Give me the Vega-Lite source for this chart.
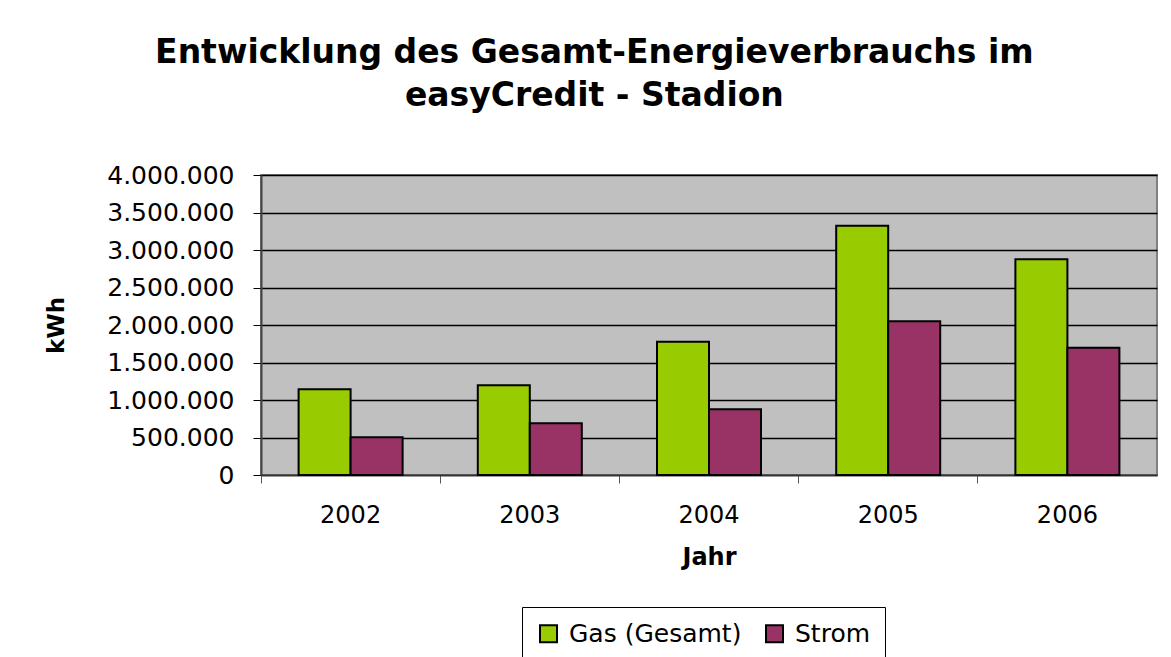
{
  "$schema": "https://vega.github.io/schema/vega-lite/v6.json",
  "autosize": "none",
  "width": 896,
  "height": 300,
  "padding": {"left": 261, "top": 175, "right": 14, "bottom": 182},
  "background": "white",
  "title": {
    "text": ["Entwicklung des Gesamt-Energieverbrauchs im", "easyCredit - Stadion"],
    "font": "DejaVu Sans",
    "fontSize": 33,
    "fontWeight": "bold",
    "color": "black",
    "anchor": "middle",
    "frame": "bounds",
    "lineHeight": 43,
    "offset": 50,
    "dx": -7
  },
  "data": {
    "values": [
      {"Jahr": "2002", "Serie": "Gas (Gesamt)", "kWh": 1143000},
      {"Jahr": "2002", "Serie": "Strom", "kWh": 502000},
      {"Jahr": "2003", "Serie": "Gas (Gesamt)", "kWh": 1196000},
      {"Jahr": "2003", "Serie": "Strom", "kWh": 689000},
      {"Jahr": "2004", "Serie": "Gas (Gesamt)", "kWh": 1778000},
      {"Jahr": "2004", "Serie": "Strom", "kWh": 876000},
      {"Jahr": "2005", "Serie": "Gas (Gesamt)", "kWh": 3324000},
      {"Jahr": "2005", "Serie": "Strom", "kWh": 2049000},
      {"Jahr": "2006", "Serie": "Gas (Gesamt)", "kWh": 2876000},
      {"Jahr": "2006", "Serie": "Strom", "kWh": 1698000}
    ]
  },
  "mark": {"type": "bar", "stroke": "black", "strokeWidth": 2},
  "encoding": {
    "x": {
      "field": "Jahr",
      "type": "nominal",
      "title": "Jahr",
      "scale": {"paddingInner": 0, "paddingOuter": 0},
      "axis": {
        "labelAngle": 0,
        "bandPosition": 0,
        "labelFont": "DejaVu Sans",
        "labelFontSize": 24,
        "labelColor": "black",
        "labelPadding": 20,
        "tickSize": 8,
        "tickColor": "#555555",
        "domainColor": "#333333",
        "domainWidth": 1.5,
        "titleFont": "DejaVu Sans",
        "titleFontSize": 24,
        "titleFontWeight": "bold",
        "titleColor": "black",
        "titlePadding": 18
      }
    },
    "xOffset": {
      "field": "Serie",
      "type": "nominal",
      "scale": {"domain": ["Gas (Gesamt)", "Strom"], "paddingInner": 0, "paddingOuter": 0.723}
    },
    "y": {
      "field": "kWh",
      "type": "quantitative",
      "title": "kWh",
      "scale": {"domain": [0, 4000000], "nice": false},
      "axis": {
        "values": [0, 500000, 1000000, 1500000, 2000000, 2500000, 3000000, 3500000, 4000000],
        "format": ",.0f",
        "labelFont": "DejaVu Sans",
        "labelFontSize": 25,
        "labelColor": "black",
        "labelPadding": 19,
        "tickSize": 8,
        "tickColor": "black",
        "domainColor": "#444444",
        "domainWidth": 2,
        "gridColor": "black",
        "gridWidth": 1.3,
        "gridOpacity": 1,
        "titleFont": "DejaVu Sans",
        "titleFontSize": 23,
        "titleFontWeight": "bold",
        "titleColor": "black",
        "titlePadding": 38
      }
    },
    "color": {
      "field": "Serie",
      "type": "nominal",
      "scale": {"domain": ["Gas (Gesamt)", "Strom"], "range": ["#99CC00", "#993366"]},
      "legend": {
        "title": null,
        "orient": "none",
        "legendX": 261,
        "legendY": 432,
        "direction": "horizontal",
        "strokeColor": "black",
        "padding": 14,
        "symbolType": "square",
        "symbolSize": 289,
        "symbolStrokeColor": "black",
        "symbolStrokeWidth": 2,
        "symbolOpacity": 1,
        "labelFont": "DejaVu Sans",
        "labelFontSize": 25,
        "labelLimit": 400,
        "labelColor": "black",
        "labelOffset": 8,
        "columnPadding": 20
      }
    }
  },
  "config": {
    "locale": {"number": {"decimal": ",", "thousands": ".", "grouping": [3], "currency": ["", " €"]}},
    "view": {"fill": "#C0C0C0", "stroke": "#808080", "strokeWidth": 2}
  }
}
